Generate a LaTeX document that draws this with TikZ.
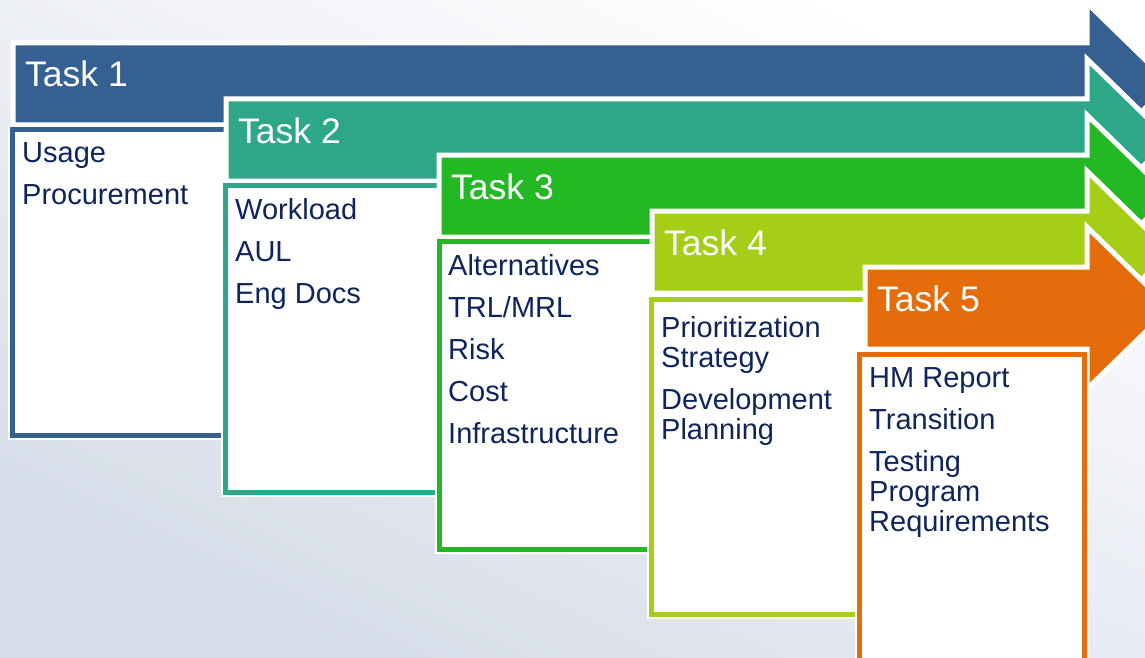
\documentclass[tikz,border=0pt]{standalone}
\usepackage{fontspec}
\setmainfont{Liberation Sans}

\definecolor{taskone}{RGB}{55,96,146}
\definecolor{tasktwo}{RGB}{46,167,137}
\definecolor{taskthree}{RGB}{35,185,37}
\definecolor{taskfour}{RGB}{165,207,23}
\definecolor{taskfive}{RGB}{228,108,10}
\definecolor{itemtext}{RGB}{14,36,92}
\definecolor{bgshade}{RGB}{214,220,232}

\begin{document}
\begin{tikzpicture}[x=1pt,y=-1pt,
    bar/.style={fill=#1,draw=white,line width=5pt,line join=miter},
    listbox/.style={fill=white,draw=#1,line width=5pt,
        preaction={draw=white,line width=9pt}},
    tasklabel/.style={anchor=base west,inner sep=0pt,text=white,
        font=\fontsize{35.5}{40}\selectfont},
    itemlist/.style={anchor=north west,inner sep=0pt,align=left,
        text=itemtext,font=\fontsize{29}{30}\selectfont}]
    \shade[top color=white,bottom color=bgshade,shading angle=-25]
        (0,0) rectangle (1145,658);
    \clip (0,0) rectangle (1145,658);
    % arrow bars and their boxes, later ones on top
    \foreach \col/\bx/\by/\lx/\ly/\lb [count=\i] in
        {taskone/15/45/10/127/438, tasktwo/228/101/223/183/495,
         taskthree/441/157/437/239/552, taskfour/654/213/649/297/617,
         taskfive/867/269/857/352/700}
    {
        \draw[bar=\col] (\bx-2,\by-2) -- (1087,\by-2) -- (1087,\by-42)
            -- (1170,\by+39) -- (1087,\by+120) -- (1087,\by+80)
            -- (\bx-2,\by+80) -- cycle;
        \node[tasklabel] (task\i) at (\bx+10,\by+42) {Task \i};
        \draw[listbox=\col] (\lx+2.5,\ly+2.5) rectangle (\lx+227.5,\lb-2.5);
    }
    \node[itemlist] (list1) at (22,142) {Usage\\[12pt]Procurement};
    \node[itemlist] (list2) at (235,198) {Workload\\[12pt]AUL\\[12pt]Eng Docs};
    \node[itemlist] (list3) at (448,254)
        {Alternatives\\[12pt]TRL/MRL\\[12pt]Risk\\[12pt]Cost\\[12pt]Infrastructure};
    \node[itemlist] (list4) at (661,316)
        {Prioritization\\Strategy\\[12pt]Development\\Planning};
    \node[itemlist] (list5) at (869,367)
        {HM Report\\[12pt]Transition\\[12pt]Testing\\Program\\Requirements};
\end{tikzpicture}
\end{document}
